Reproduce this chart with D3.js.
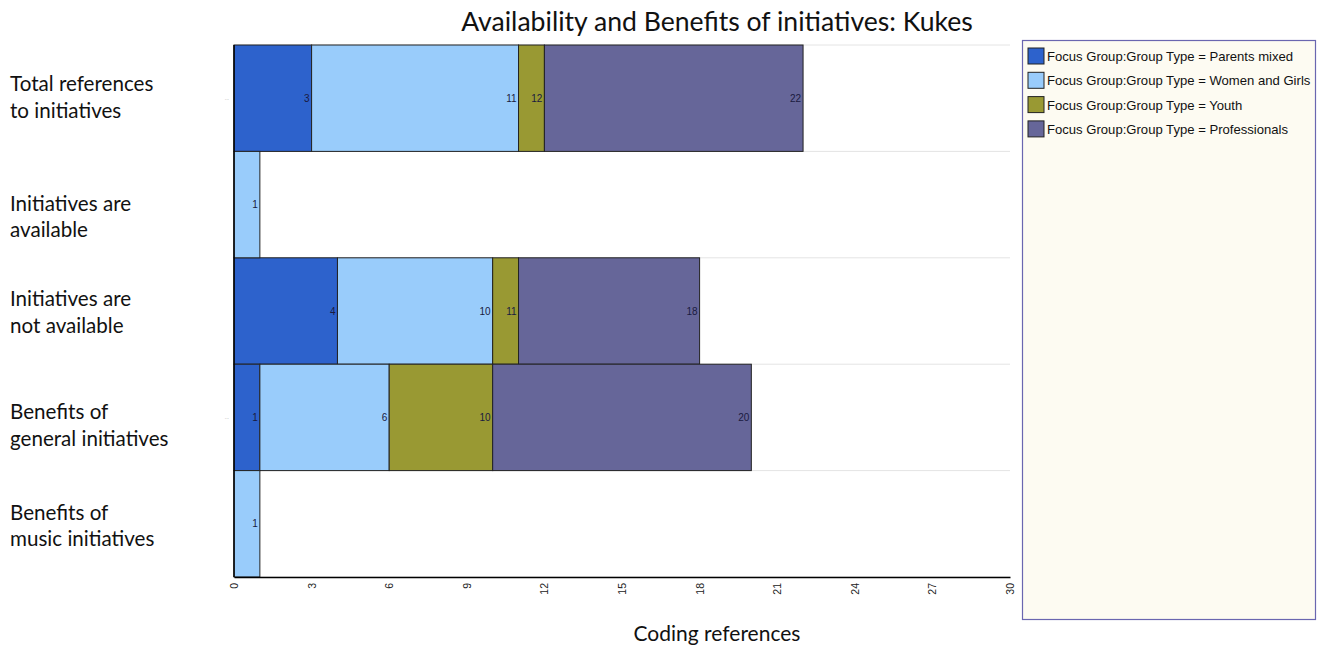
<!DOCTYPE html>
<html>
<head>
<meta charset="utf-8">
<script src="https://cdn.jsdelivr.net/npm/d3@7"></script>
<style>
  body { margin: 0; background: #ffffff; }
  svg { display: block; }
</style>
</head>
<body>
<svg id="chart" width="1325" height="649"></svg>
<script>
const categories = [
  ["Total references", "to initiatives"],
  ["Initiatives are", "available"],
  ["Initiatives are", "not available"],
  ["Benefits of", "general initiatives"],
  ["Benefits of", "music initiatives"]
];
const seriesNames = [
  "Focus Group:Group Type = Parents mixed",
  "Focus Group:Group Type = Women and Girls",
  "Focus Group:Group Type = Youth",
  "Focus Group:Group Type = Professionals"
];
const parentsMixed = [3, 0, 4, 1, 0];
const womenAndGirls = [8, 1, 6, 5, 1];
const youth = [1, 0, 1, 4, 0];
const professionals = [10, 0, 7, 10, 0];
const xTicks = [0, 3, 6, 9, 12, 15, 18, 21, 24, 27, 30];
const dottedRows = [0, 3];

(function () {
const seriesColors = ["#2d62cc", "#99ccfb", "#999933", "#666699"];
const labelShift = [0, 13, 2, 9, 3];
const svg = d3.select("#chart");
const mLeft = 234, mRight = 1010, mTop = 45, mBottom = 577;

const x = d3.scaleLinear().domain([0, 30]).range([mLeft, mRight]);
const y = d3.scaleBand().domain(d3.range(categories.length)).range([mTop, mBottom]).padding(0);

const seriesValues = [parentsMixed, womenAndGirls, youth, professionals];
const rows = categories.map((c, i) => {
  const o = { idx: i };
  seriesValues.forEach((s, k) => o["s" + k] = s[i]);
  return o;
});
const stack = d3.stack().keys(seriesValues.map((s, k) => "s" + k));
const stacked = stack(rows);

// gridlines
svg.append("g").selectAll("line")
  .data(d3.range(categories.length + 1))
  .join("line")
  .attr("x1", mLeft).attr("x2", mRight)
  .attr("y1", i => i < categories.length ? y(i) : mBottom)
  .attr("y2", i => i < categories.length ? y(i) : mBottom)
  .attr("stroke", "#e4e4e4").attr("stroke-width", 1);

// bars
stacked.forEach((layer, k) => {
  const g = svg.append("g");
  const segs = layer.filter(d => d[1] - d[0] > 0);
  g.selectAll("rect").data(segs).join("rect")
    .attr("x", d => x(d[0]))
    .attr("y", d => y(d.data.idx))
    .attr("width", d => x(d[1]) - x(d[0]))
    .attr("height", y.bandwidth())
    .attr("fill", seriesColors[k])
    .attr("stroke", "#222").attr("stroke-width", 1);
  g.selectAll("text").data(segs).join("text")
    .attr("x", d => x(d[1]) - 2)
    .attr("y", d => y(d.data.idx) + y.bandwidth() / 2 + 3.5)
    .attr("text-anchor", "end")
    .attr("font-family", "Arial, 'Liberation Sans', sans-serif")
    .attr("font-size", 10)
    .attr("fill", "#1a1a40")
    .text(d => d[1]);
});

// axes
const xAxis = d3.axisBottom(x).tickValues(xTicks).tickSize(0).tickPadding(0);
const gx = svg.append("g").attr("transform", `translate(0,${mBottom})`).call(xAxis);
gx.select(".domain").attr("stroke", "#000").attr("stroke-width", 1.5);
gx.selectAll("text")
  .attr("font-family", "Arial, 'Liberation Sans', sans-serif")
  .attr("font-size", 10.5)
  .attr("fill", "#222")
  .attr("text-anchor", "end")
  .attr("dy", null)
  .attr("transform", "translate(3.5,6) rotate(-90)")
  .attr("x", 0).attr("y", 0);

svg.append("line")
  .attr("x1", mLeft).attr("x2", mLeft).attr("y1", mTop).attr("y2", mBottom)
  .attr("stroke", "#000").attr("stroke-width", 1.5);

// category labels
const catG = svg.append("g");
categories.forEach((lines, i) => {
  const cy = y(i) + y.bandwidth() / 2 + labelShift[i];
  const t = catG.append("text")
    .attr("font-family", "Lato, 'Open Sans', sans-serif")
    .attr("font-size", 20.6)
    .attr("fill", "#111");
  lines.forEach((ln, j) => {
    t.append("tspan").attr("x", 10).attr("y", cy - 7 + j * 26.5).text(ln);
  });
});
// small truncated markers
svg.append("g").selectAll("text").data(dottedRows).join("text")
  .attr("x", 229).attr("y", i => y(i) + y.bandwidth() / 2 + 2)
  .attr("text-anchor", "end")
  .attr("font-family", "Arial, sans-serif").attr("font-size", 5)
  .attr("fill", "#999").text("...");

// title
svg.append("text")
  .attr("x", 717).attr("y", 31)
  .attr("text-anchor", "middle")
  .attr("font-family", "Lato, 'Open Sans', sans-serif")
  .attr("font-size", 26.6).attr("fill", "#111")
  .text("Availability and Benefits of initiatives: Kukes");

svg.append("text")
  .attr("x", 717).attr("y", 641)
  .attr("text-anchor", "middle")
  .attr("font-family", "Lato, 'Open Sans', sans-serif")
  .attr("font-size", 21).attr("fill", "#111")
  .text("Coding references");

// legend
const lg = svg.append("g");
lg.append("rect")
  .attr("x", 1022.5).attr("y", 40.5).attr("width", 293).attr("height", 579)
  .attr("fill", "#fdfbf2").attr("stroke", "#6a66b0").attr("stroke-width", 1.2);
const items = lg.selectAll("g.item").data(seriesNames).join("g")
  .attr("transform", (d, i) => `translate(1028,${48 + i * 24.3})`);
items.append("rect")
  .attr("width", 16).attr("height", 16)
  .attr("fill", (d, i) => seriesColors[i])
  .attr("stroke", "#222").attr("stroke-width", 1);
items.append("text")
  .attr("x", 19).attr("y", 13)
  .attr("font-family", "Arial, 'Liberation Sans', sans-serif")
  .attr("font-size", 13.1).attr("fill", "#111")
  .text(d => d);
})();
</script>
</body>
</html>
